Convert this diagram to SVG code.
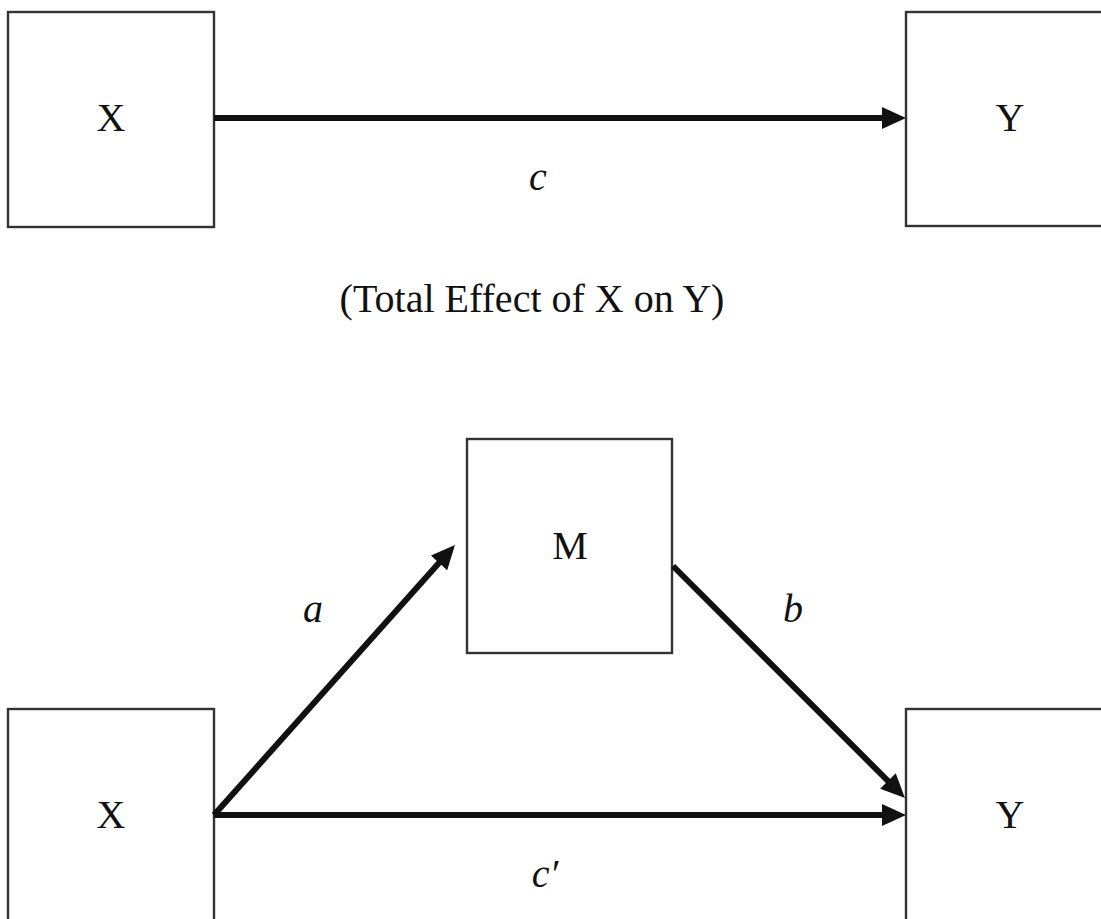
<svg xmlns="http://www.w3.org/2000/svg" width="1101" height="919" viewBox="0 0 1101 919">
  <style>
    .box { fill: #ffffff; stroke: #333333; stroke-width: 2.4; }
    .lbl { font-family: "Liberation Serif", "Times New Roman", serif; font-size: 40px; fill: #111111; text-anchor: middle; }
    .it { font-style: italic; }
    .edge { stroke: #111111; stroke-width: 6; fill: none; marker-end: url(#ah); }
  </style>
  <defs>
    <marker id="ah" markerUnits="userSpaceOnUse" markerWidth="26" markerHeight="24" refX="17" refY="11" orient="auto">
      <path d="M0,0 L24,11 L0,22 Z" fill="#111111"/>
    </marker>
  </defs>
  <rect width="1101" height="919" fill="#ffffff"/>

  <g id="top-x">
    <rect class="box" x="8" y="12" width="206" height="215"/>
    <text class="lbl" x="111" y="131">X</text>
  </g>
  <g id="top-y">
    <rect class="box" x="906" y="12" width="206" height="214"/>
    <text class="lbl" x="1010" y="131">Y</text>
  </g>
  <g id="m">
    <rect class="box" x="467" y="439" width="205" height="214"/>
    <text class="lbl" x="570" y="559">M</text>
  </g>
  <g id="bottom-x">
    <rect class="box" x="8" y="709" width="206" height="220"/>
    <text class="lbl" x="111" y="828">X</text>
  </g>
  <g id="bottom-y">
    <rect class="box" x="906" y="709" width="206" height="220"/>
    <text class="lbl" x="1010" y="828">Y</text>
  </g>

  <g id="connectors">
    <line class="edge" x1="214" y1="118" x2="899" y2="118"/>
    <line class="edge" x1="214" y1="815" x2="450.3" y2="550.2"/>
    <line class="edge" x1="673" y1="566" x2="900" y2="793"/>
    <line class="edge" x1="214" y1="815" x2="899" y2="815"/>
  </g>

  <g id="labels">
    <text class="lbl it" x="538" y="190">c</text>
    <text class="lbl" x="532" y="312">(Total Effect of X on Y)</text>
    <text class="lbl it" x="313" y="622">a</text>
    <text class="lbl it" x="793" y="622">b</text>
    <text class="lbl it" x="545" y="887">c′</text>
  </g>
</svg>
